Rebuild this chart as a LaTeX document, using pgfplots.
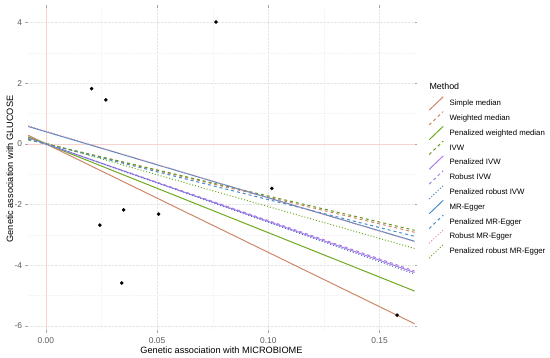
\documentclass[border=0pt]{standalone}
\usepackage{fontspec}
\setmainfont{Liberation Sans}
\usepackage{pgfplots}
\pgfplotsset{compat=1.18}
\definecolor{tickgray}{RGB}{90,90,90}
\definecolor{cmed}{RGB}{205,135,105}
\definecolor{cgreen}{RGB}{110,170,30}
\definecolor{colive}{RGB}{105,150,30}
\definecolor{cpurple}{RGB}{170,125,235}
\definecolor{cblue}{RGB}{70,140,200}
\definecolor{cteal}{RGB}{80,120,190}
\definecolor{cpink}{RGB}{235,130,150}
\definecolor{cref}{RGB}{248,210,205}
\begin{document}
\begin{tikzpicture}
\path[use as bounding box] (0,0) rectangle (550bp,358bp);
\begin{axis}[
  at={(28.2bp,28bp)}, anchor=south west,
  scale only axis, width=386.5bp, height=322bp,
  xmin=-0.0079, xmax=0.1658, ymin=-6.14, ymax=4.48,
  axis line style={draw=none},
  xtick={0,0.05,0.1,0.15}, xticklabels={0.00,0.05,0.10,0.15},
  ytick={-6,-4,-2,0,2,4},
  minor xtick={0.025,0.075,0.125}, minor ytick={-5,-3,-1,1,3},
  grid=both,
  major grid style={gray!20, densely dotted, line width=0.5bp},
  minor grid style={gray!9, densely dotted, line width=0.3bp},
  tick align=outside, major tick length=2.7bp, minor tick length=0pt,
  tick style={gray!70, line width=0.5bp},
  /pgf/number format/assume math mode=true,
  tick label style={font=\fontsize{8.4bp}{10bp}\selectfont, text=tickgray},
  xticklabel style={yshift=-1bp},
  xlabel={Genetic association with MICROBIOME},
  ylabel={Genetic association with GLUCOSE},
  label style={font=\fontsize{9.2bp}{11bp}\selectfont},
  xlabel style={at={(axis description cs:0.5,-0.0736)}, anchor=base},
  ylabel style={at={(axis description cs:-0.0390,0.5)}, anchor=base, rotate=0},
  legend image code/.code={\draw[#1,overlay] (0bp,-6.7bp) -- (14bp,6.7bp); \path (0bp,-1bp) (14bp,1bp);},
  legend cell align=left,
  legend style={draw=none, fill=none, inner sep=0pt,
    at={(axis description cs:1.0357,0.7159)}, anchor=north west,
    row sep=7.3bp, column sep=5.8bp,
    font=\fontsize{7.8bp}{9bp}\selectfont,
    nodes={inner sep=0pt, text height=6bp, text depth=1.5bp}},
]
% reference lines
\addplot[cref, line width=0.5bp, forget plot] coordinates {(-0.0079,0) (0.1658,0)};
\addplot[cref, line width=0.5bp, forget plot] coordinates {(0,-6.14) (0,4.48)};
% method lines
\addplot[cmed, line width=1bp] coordinates {(-0.0079,0.283) (0.1658,-5.936)};
\addlegendentry{Simple median}
\addplot[cmed, line width=1bp, dashed] coordinates {(-0.0079,0.139) (0.1658,-2.918)};
\addlegendentry{Weighted median}
\addplot[cgreen, line width=1bp] coordinates {(-0.0079,0.231) (0.1658,-4.858)};
\addlegendentry{Penalized weighted median}
\addplot[colive, line width=1bp, dashed] coordinates {(-0.0079,0.136) (0.1658,-2.852)};
\addlegendentry{IVW}
\addplot[cpurple, line width=1bp] coordinates {(-0.0079,0.202) (0.1658,-4.244)};
\addlegendentry{Penalized IVW}
\addplot[cpurple, line width=1bp, dashed] coordinates {(-0.0079,0.200) (0.1658,-4.195)};
\addlegendentry{Robust IVW}
\addplot[cteal, line width=1bp, dotted] coordinates {(-0.0079,0.205) (0.1658,-4.294)};
\addlegendentry{Penalized robust IVW}
\addplot[cblue, line width=1bp] coordinates {(-0.0079,0.572) (0.1658,-3.214)};
\addlegendentry{MR-Egger}
\addplot[cblue, line width=1bp, dashed] coordinates {(-0.0079,0.145) (0.1658,-3.051)};
\addlegendentry{Penalized MR-Egger}
\addplot[cpink, line width=1bp, dotted] coordinates {(-0.0079,0.594) (0.1658,-3.228)};
\addlegendentry{Robust MR-Egger}
\addplot[cgreen, line width=1bp, dotted] coordinates {(-0.0079,0.196) (0.1658,-3.452)};
\addlegendentry{Penalized robust MR-Egger}
% points
\addplot[only marks, mark=*, mark size=1.6bp, black, forget plot] coordinates {
(0.0765,4.02) (0.0206,1.82) (0.0270,1.45) (0.0243,-2.68) (0.0350,-2.18)
(0.0507,-2.32) (0.0341,-4.59) (0.1016,-1.47) (0.1579,-5.65)};
\end{axis}
\node[anchor=base west, inner sep=0pt, font=\fontsize{8.9bp}{10bp}\selectfont] at (429.3bp,268bp) {Method};
\end{tikzpicture}
\end{document}
